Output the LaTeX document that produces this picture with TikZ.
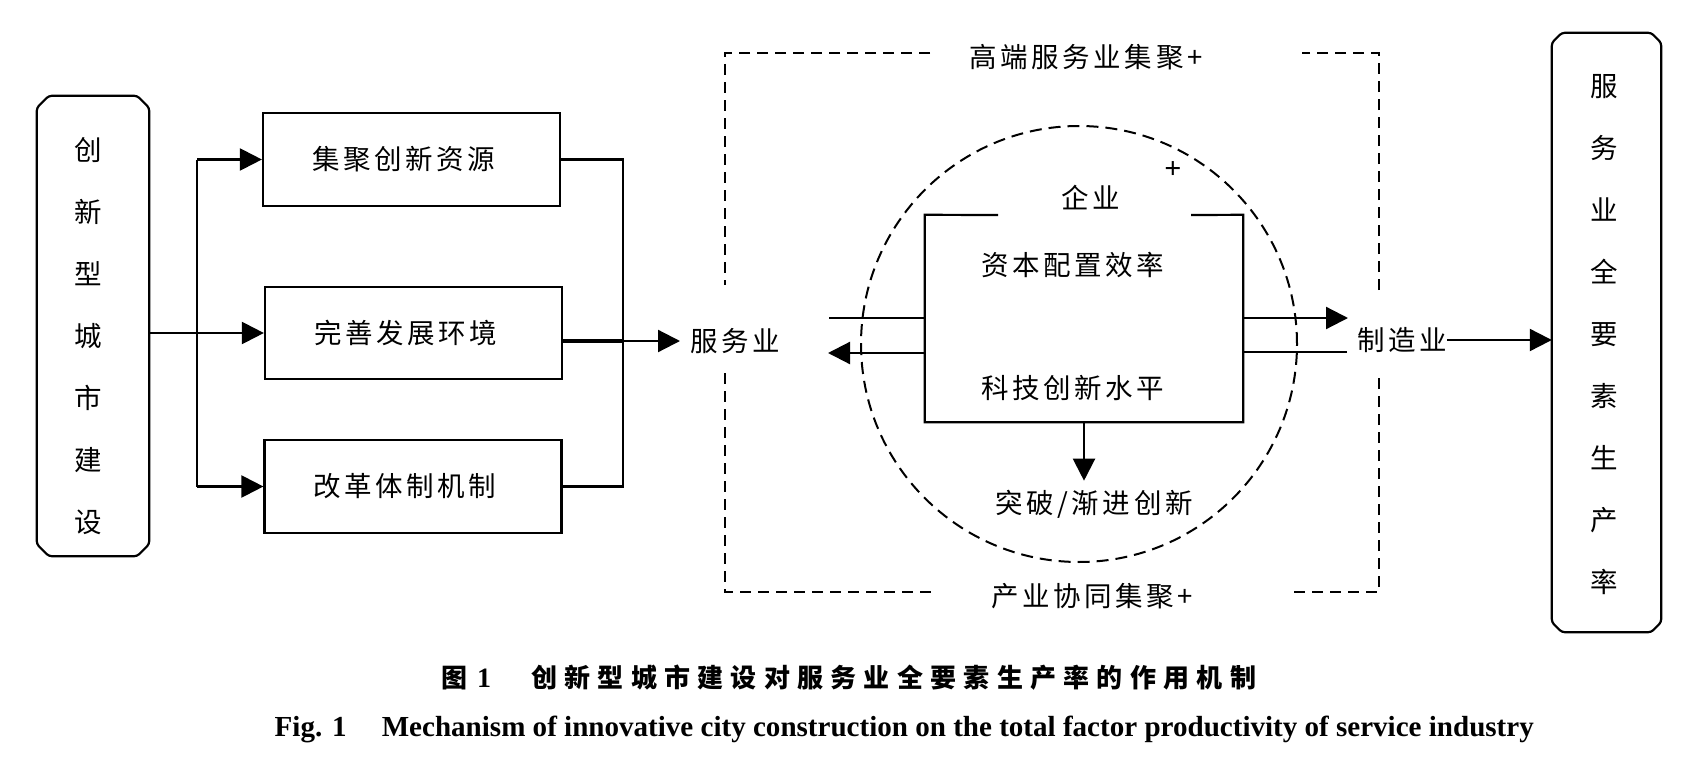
\documentclass[tikz,border=0pt]{standalone}
\usepackage{fontspec}
\setmainfont{Liberation Serif}
\newfontfamily\cjk[LetterSpace=13]{Noto Sans CJK SC}
\newfontfamily\cjkcap[LetterSpace=28]{Noto Sans CJK SC}
\usetikzlibrary{arrows.meta,calc}
\newcommand\cjktext{\cjk\fontsize{27.5}{30}\selectfont}
\newcommand\cjkvert{\cjk\fontsize{27.5}{62}\selectfont}
\tikzset{
  ln/.style={line width=2.2pt},
  arr/.style={ln,-{Triangle[length=22pt,width=22pt]}},
  dsh/.style={line width=2pt, dash pattern=on 11pt off 7pt},
  cdsh/.style={line width=2pt, dash pattern=on 12pt off 7pt},
  box/.style={draw, line width=2.2pt, minimum width=297pt, minimum height=93pt, inner sep=0pt, font=\cjktext},
  frame/.style={minimum width=0pt, inner sep=0pt},
  lbl/.style={inner sep=0pt, font=\cjktext},
  vtxt/.style={inner sep=0pt, align=center, font=\cjkvert},
}
\newcommand\chamferbox[2]{%
  \draw[ln, rounded corners=3pt] ($(#1.north west)+(#2,0)$) -- ($(#1.north east)+(-#2,0)$) -- ($(#1.north east)+(0,#2)$) -- ($(#1.south east)+(0,-#2)$) -- ($(#1.south east)+(-#2,0)$) -- ($(#1.south west)+(#2,0)$) -- ($(#1.south west)+(0,-#2)$) -- ($(#1.north west)+(0,#2)$) -- cycle;}
\begin{document}
\begin{tikzpicture}[x=1pt,y=-1pt]
\useasboundingbox (0,0) rectangle (1708,760);
% left box
\node[frame, minimum width=112pt, minimum height=460pt] (lbox) at (93,326) {};
\chamferbox{lbox}{12}
\node[vtxt] (ltext) at (88,336) {创\\新\\型\\城\\市\\建\\设};
% three boxes
\node[box] (b1) at (411.5,159.5) {集聚创新资源\kern16pt};
\node[box, minimum height=92pt] (b2) at (413.5,333) {完善发展环境\kern16pt};
\node[box] (b3) at (413,486.5) {改革体制机制\kern16pt};
% split arrows
\coordinate (j) at (197,333);
\draw[arr] (lbox.east |- b2.west) -- (b2.west);
\draw[ln] (j |- b1.west) -- (j |- b3.west);
\draw[arr] (j |- b1.west) -- (b1.west);
\draw[arr] (j |- b3.west) -- (b3.west);
% bracket
\node[lbl, anchor=west] (fwy) at (690,341) {服务业};
\coordinate (k) at (623,333);
\draw[ln] (b1.east) -- (k |- b1.east) -- (k |- b3.east) -- (b3.east);
\draw[line width=4.5pt] (b2.east |- fwy) -- (k |- fwy);
\draw[arr, shorten >=10pt] (k |- fwy) -- (fwy.west);
% dashed rectangle
\draw[dsh] (930,53) -- (725,53) -- (725,285);
\draw[dsh] (725,373) -- (725,592) -- (937,592);
\draw[dsh] (1294,592) -- (1379,592) -- (1379,372);
\draw[dsh] (1379,290) -- (1379,53) -- (1302,53);
\node[lbl] (top) at (1086,57) {高端服务业集聚+};
\node[lbl] (bot) at (1092,596) {产业协同集聚+};
% circle
\node[draw, cdsh, circle, minimum size=436pt, inner sep=0pt] (circ) at (1079,344) {};
\node[inner sep=0pt, font=\fontsize{30}{32}\selectfont\bfseries] (plus) at (1173,170) {+};
% firm box
\node[minimum width=318pt, minimum height=207pt, inner sep=0pt] (firm) at (1084,318.5) {};
\draw[ln] (998,215) -- (firm.north west) -- (firm.south west) -- (firm.south east) -- (firm.north east) -- (1191,215);
\node[lbl] (qy) at (1091,198) {企业};
\node[lbl] (zb) at (1073,265) {资本配置效率};
\node[lbl] (kj) at (1073,388) {科技创新水平};
\node[lbl] (tp) at (1094,504) {突破/渐进创新};
\draw[arr, shorten >=9pt] (firm.south) -- (firm.south |- tp.north);
% in/out arrows
\coordinate (L1) at (829,318);
\coordinate (L2) at (828,353);
\coordinate (R1) at (1348,318);
\coordinate (R2) at (1347,352);
\draw[ln] (L1) -- (L1 -| firm.west);
\draw[arr] (L2 -| firm.west) -- (L2);
\draw[arr] (R1 -| firm.east) -- (R1);
\draw[ln] (R2) -- (R2 -| firm.east);
\node[lbl, anchor=west] (zzy) at (1357,340) {制造业};
% right box
\node[frame, minimum width=109pt, minimum height=599pt] (rbox) at (1606.5,332.5) {};
\chamferbox{rbox}{10}
\node[vtxt] (rtext) at (1604,335) {服\\务\\业\\全\\要\\素\\生\\产\\率};
\draw[arr] (zzy.east) -- (zzy.east -| rbox.west);
% captions
\node[inner sep=0pt, anchor=west] (capc) at (441,678) {{\cjkcap\bfseries\fontsize{26}{28}\selectfont 图}\hspace{10pt}{\bfseries\fontsize{28}{30}\selectfont 1}\hspace{40pt}{\cjkcap\bfseries\fontsize{26}{28}\selectfont 创新型城市建设对服务业全要素生产率的作用机制}};
\node[inner sep=0pt, anchor=west] (cape) at (274.5,729) {\resizebox{1259pt}{!}{\bfseries\fontsize{28}{30}\selectfont Fig. 1\hspace{34pt}Mechanism of innovative city construction on the total factor productivity of service industry}};
\end{tikzpicture}
\end{document}
